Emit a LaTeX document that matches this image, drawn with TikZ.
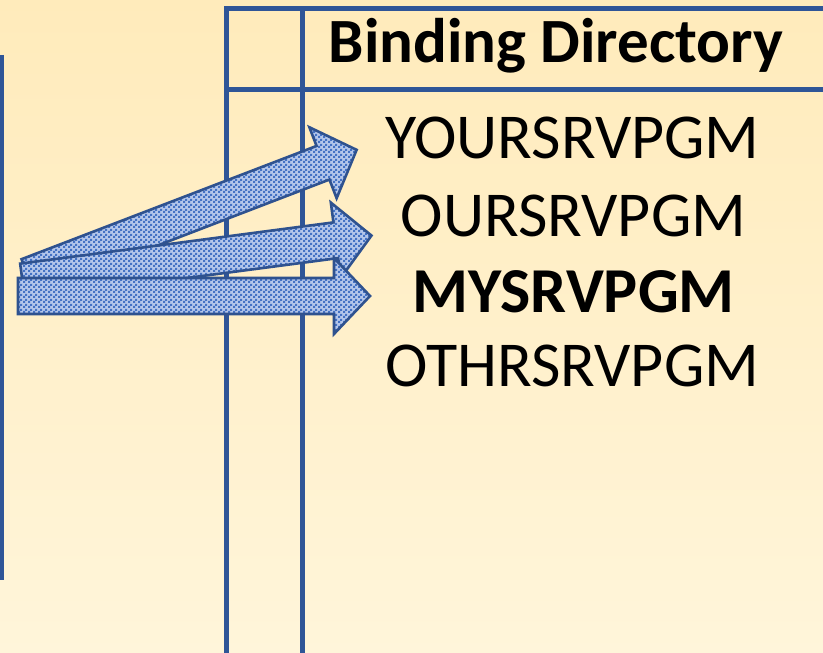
\documentclass[tikz,border=0pt]{standalone}
\usepackage{fontspec}
\setmainfont{Carlito}
\usetikzlibrary{patterns.meta}
\definecolor{bgtop}{HTML}{FFEBBB}
\definecolor{bgbot}{HTML}{FFF5DA}
\definecolor{linecol}{HTML}{2F5597}
\definecolor{arrline}{HTML}{2F528F}
\definecolor{arrblue}{HTML}{4472C4}
\definecolor{arrlight}{HTML}{B4C6EA}
\tikzdeclarepattern{name=checker, type=uncolored, bottom left={(0pt,0pt)}, top right={(4.5pt,4.5pt)}, tile size={(4.5pt,4.5pt)},
  code={\fill (0pt,0pt) rectangle (2.25pt,2.25pt); \fill (2.25pt,2.25pt) rectangle (4.5pt,4.5pt);}}
\tikzset{
  grid line/.style={draw=linecol, line width=4.2pt},
  edge line/.style={draw=linecol, line width=4.5pt},
  blockarrow/.style={draw=arrline, line width=2.6pt, line join=miter, preaction={fill=arrlight}, pattern={checker}, pattern color=arrblue},
  name text/.style={anchor=base, inner sep=0pt, font=\fontsize{64}{70}\selectfont},
  head text/.style={anchor=base, inner sep=0pt, font=\fontsize{63}{70}\selectfont\bfseries},
}
\newcommand{\blockarrowpath}{(0,-18) -- (316,-18) -- (316,-38) -- (352,0) -- (316,38) -- (316,18) -- (0,18) -- cycle}
\begin{document}
\begin{tikzpicture}[x=1pt,y=1pt]
\useasboundingbox (0,0) rectangle (823,653);
\shade[top color=bgtop, bottom color=bgbot] (0,0) rectangle (823,653);
% table lines
\draw[edge line] (2,598) -- (2,73);
\draw[grid line] (226.5,646.6) -- (226.5,-2);
\draw[grid line] (302.5,644.5) -- (302.5,-2);
\draw[grid line] (224.4,644.5) -- (825,644.5);
\draw[grid line] (224.4,563.5) -- (825,563.5);
% texts
\node[head text] (hdr) at (556,590) {Binding Directory};
\node[name text] (n1) at (572.5,494) {YOURSRVPGM};
\node[name text] (n2) at (573.5,416) {OURSRVPGM};
\node[name text, font=\fontsize{64}{70}\selectfont\bfseries] (n3) at (573.5,340) {MYSRVPGM};
\node[name text] (n4) at (572.5,266) {OTHRSRVPGM};
% arrows
\begin{scope}[shift={(28,377)}, rotate=21]
  \path[blockarrow] \blockarrowpath;
\end{scope}
\begin{scope}[shift={(22.5,371.5)}, rotate=7.5]
  \path[blockarrow] \blockarrowpath;
\end{scope}
\begin{scope}[shift={(18,357)}]
  \path[blockarrow] \blockarrowpath;
\end{scope}
\end{tikzpicture}
\end{document}
